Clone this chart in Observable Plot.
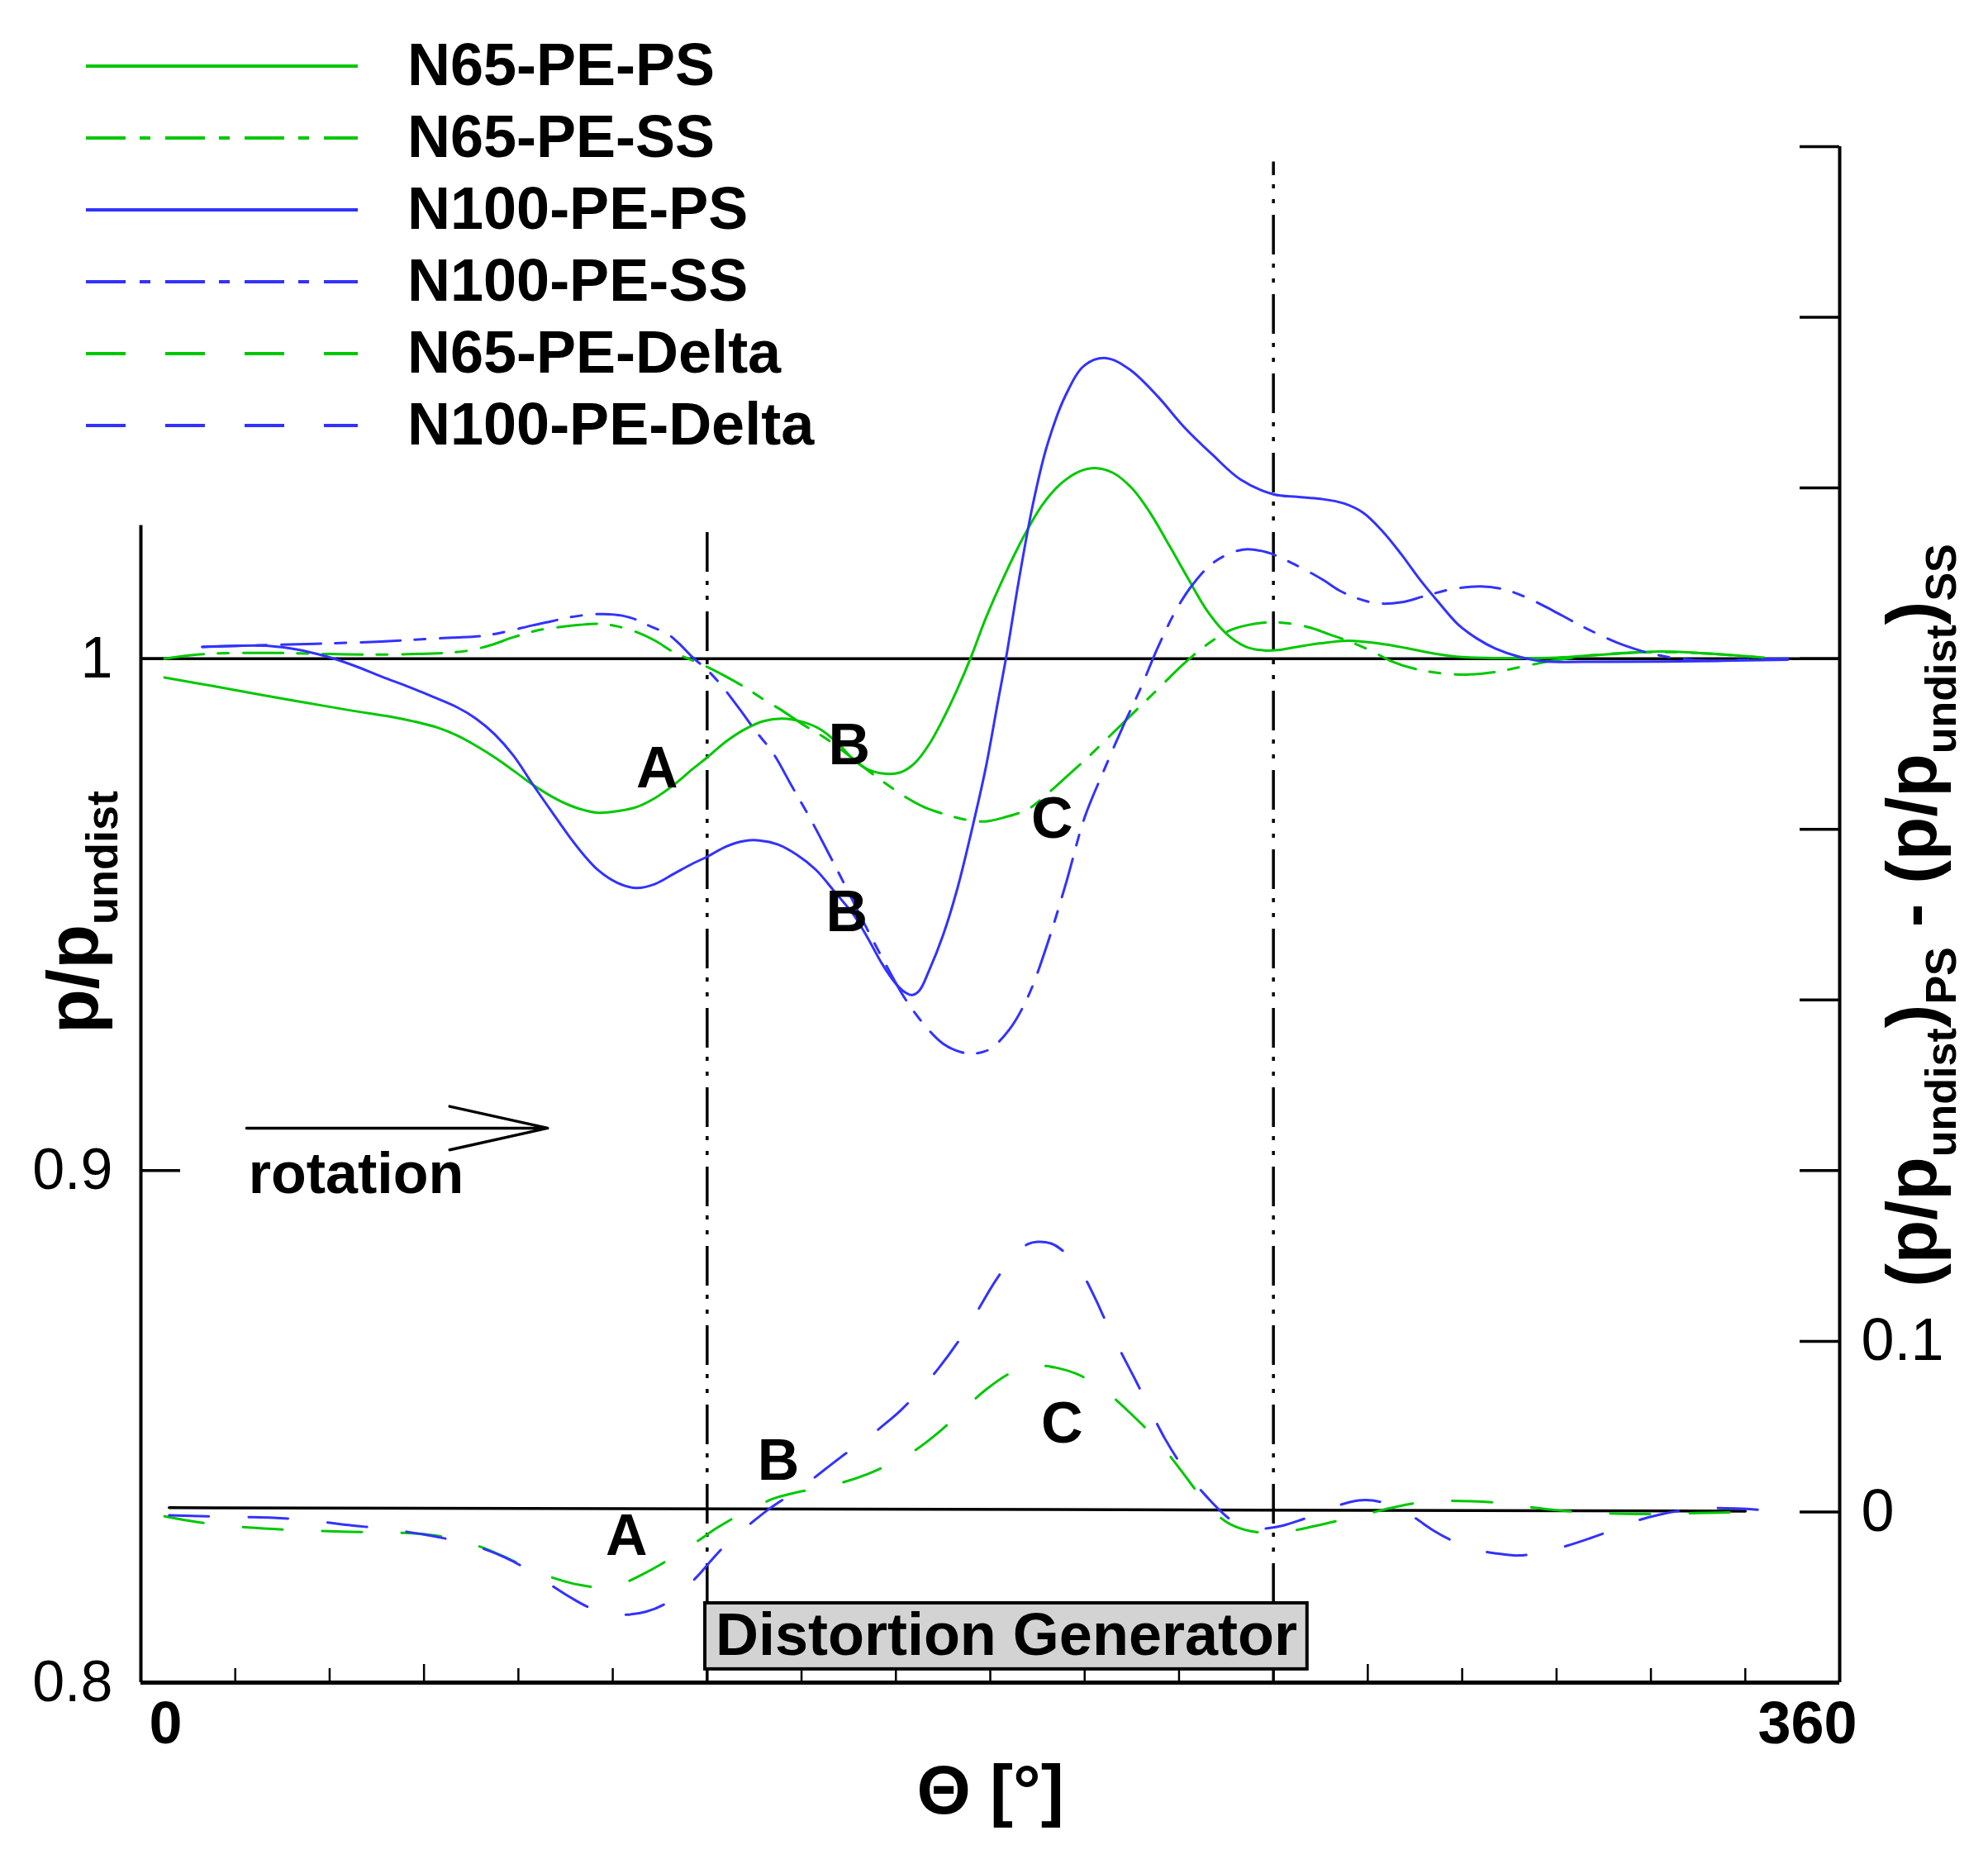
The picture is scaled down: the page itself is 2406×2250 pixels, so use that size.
<!DOCTYPE html>
<html>
<head>
<meta charset="utf-8">
<script src="https://cdn.jsdelivr.net/npm/d3@7"></script>
<script src="https://cdn.jsdelivr.net/npm/@observablehq/plot@0.6"></script>
<style>
  html, body { margin: 0; padding: 0; background: white; overflow: hidden; }
  #wrap { position: relative; width: 2406px; height: 2250px; }
  #legend { position: absolute; left: 0; top: 0; }
</style>
</head>
<body>
<div id="wrap"></div>
<script>
// ---------------- DATA ----------------
// N65-PE-PS (p/p_undist, pressure side)
const n65PS_theta = [5,15,25,35,45,52,58,63,67,71,75,79,83,87,91,94,97,101,105,109,113,117,120,124,128,132,136,140,144,148,151,154,158,161,164,167,170,173,176,179,183,187,191,195,199,202.5,206,210,214,218,222,226,230,234,238,241,245,250,256,262,268,274,280,290,300,310,322,332,344];
const n65PS_val   = [0.9963,0.9947,0.9930,0.9914,0.9898,0.9888,0.9877,0.9865,0.9850,0.9830,0.9807,0.9781,0.9754,0.9731,0.9713,0.9704,0.9699,0.9702,0.9710,0.9728,0.9754,0.9785,0.9807,0.9838,0.9862,0.9878,0.9883,0.9877,0.9862,0.9832,0.9803,0.9784,0.9775,0.9778,0.9796,0.9832,0.9882,0.9940,1.0005,1.0078,1.0162,1.0237,1.0300,1.0342,1.0366,1.0372,1.0363,1.0333,1.0283,1.0220,1.0155,1.0093,1.0049,1.0024,1.0016,1.0017,1.0023,1.0030,1.0035,1.0030,1.0021,1.0010,1.0003,1.0001,1.0002,1.0008,1.0014,1.0010,1.0002];

// N65-PE-SS (suction side)
const n65SS_theta = [5,12,20,30,40,50,58,64,69,74,79,84,89,93,97,101,105,109,113,117,120,124,128,132,136,140,145,150,154,158,162,166,170,175,179,183,188,192,196,201,206,211,216,221,226,231,236,240,244,248,252,256,261,265,270,275,281,287,292,298,305,312,322,332,342];
const n65SS_val   = [1.0000,1.0008,1.0011,1.0011,1.0009,1.0008,1.0009,1.0011,1.0015,1.0026,1.0042,1.0055,1.0062,1.0066,1.0068,1.0063,1.0052,1.0035,1.0012,0.9996,0.9984,0.9965,0.9944,0.9920,0.9898,0.9873,0.9845,0.9811,0.9782,0.9755,0.9730,0.9710,0.9697,0.9685,0.9682,0.9690,0.9706,0.9735,0.9768,0.9810,0.9855,0.9900,0.9945,0.9990,1.0028,1.0056,1.0068,1.0071,1.0068,1.0060,1.0047,1.0034,1.0014,0.9995,0.9980,0.9972,0.9969,0.9974,0.9983,0.9994,1.0004,1.0010,1.0013,1.0010,1.0003];

// N100-PE-PS
const n100PS_theta = [13,20,27,33,39,45,51,57,62,67,71,75,79,83,87,91,94,97,101,105,109,113,117,120,124,128,131,135,139,143,147,151,154,157,160,162,163.5,165,167,170,173,176,179,181.5,183.5,186,189,192,196,200,204.5,209.5,215.5,221,227,233,240,245,250,255,259,263,267,271,275,279,283,287,292,297,310,330,349];
const n100PS_val   = [1.0023,1.0025,1.0025,1.0018,1.0005,0.9987,0.9965,0.9944,0.9925,0.9905,0.9883,0.9852,0.9810,0.9755,0.9702,0.9650,0.9615,0.9586,0.9562,0.9552,0.9560,0.9580,0.9600,0.9613,0.9633,0.9644,0.9645,0.9637,0.9617,0.9588,0.9545,0.9500,0.9455,0.9405,0.9365,0.9348,0.9343,0.9352,0.9390,0.9460,0.9550,0.9662,0.9785,0.9910,1.0010,1.0150,1.0300,1.0415,1.0515,1.0573,1.0587,1.0565,1.0512,1.0453,1.0399,1.0350,1.0321,1.0316,1.0312,1.0303,1.0285,1.0250,1.0205,1.0155,1.0110,1.0068,1.0040,1.0020,1.0004,0.9995,0.9994,0.9995,0.9998];

// N100-PE-SS
const n100SS_theta = [13,25,37,50,60,66,72,77,83,87,91,95,98,102,105,108,111.5,114,117,120,123,127,130,134,138,142,146,150,154,158,162,166,170,174,177,180,184,188,192,196,200,204,208,212,215.5,219.5,223,227.5,233.5,238.5,244.5,250.5,254,258,262,267,272,278,284,289,294,299,304,309,314,320,326,332,340,349];
const n100SS_val   = [1.0023,1.0026,1.0029,1.0033,1.0038,1.0041,1.0044,1.0052,1.0065,1.0073,1.0081,1.0086,1.0087,1.0084,1.0076,1.0063,1.0049,1.0030,1.0002,0.9978,0.9948,0.9900,0.9862,0.9815,0.9750,0.9685,0.9615,0.9543,0.9470,0.9400,0.9335,0.9285,0.9248,0.9231,0.9229,0.9238,0.9275,0.9340,0.9440,0.9560,0.9690,0.9780,0.9865,0.9945,1.0022,1.0097,1.0146,1.0189,1.0213,1.0208,1.0184,1.0154,1.0133,1.0117,1.0108,1.0110,1.0122,1.0136,1.0141,1.0135,1.0118,1.0095,1.0070,1.0047,1.0027,1.0010,1.0000,0.9996,0.9998,1.0000];

// N65-PE-Delta  (right axis: (p/p)PS - (p/p)SS)
const n65D_theta = [5,12,20,28,36,44,52,58,63,68,73,78,83,88,93,98,102,106,110,114,118,122,126,130,134,139,144,149,154,159,164,169,174,179,184,188,191,194,198,202,206,210,214,218,222,226,230,234,238,241,245,250,255,260,266,271,276,282,288,294,300,307,318,330,342];
const n65D_val   = [-0.0026,-0.0060,-0.0085,-0.0100,-0.0110,-0.0116,-0.0120,-0.0126,-0.0140,-0.0170,-0.0215,-0.0275,-0.0340,-0.0392,-0.0428,-0.0442,-0.0420,-0.0370,-0.0310,-0.0240,-0.0170,-0.0095,-0.0030,0.0025,0.0078,0.0115,0.0142,0.0175,0.0222,0.0285,0.0360,0.0465,0.0590,0.0715,0.0810,0.0850,0.0856,0.0845,0.0812,0.0755,0.0672,0.0570,0.0460,0.0330,0.0185,0.0040,-0.0058,-0.0105,-0.0123,-0.0125,-0.0105,-0.0075,-0.0043,-0.0010,0.0030,0.0055,0.0065,0.0063,0.0052,0.0030,0.0010,-0.0004,-0.0012,-0.0006,0.0000];

// N100-PE-Delta
const n100D_theta = [6,14,22,28,36,44,52,60,66,72,77,82,87,91,95,99,103,107,111,115,118,121,124,127,130,133,137,141,145,149,153,157,161,165,169,173,177,181,185,188,190,193,196,199,202,205,208,211,214,217,220,223,226,229,232,236,239,242,246,250,254,258,261,264,267,270,274,278,282,287,292,297,302,307,312,317,322,327,332,338,344,349];
const n100D_val   = [-0.0020,-0.0026,-0.0030,-0.0034,-0.0050,-0.0077,-0.0100,-0.0132,-0.0165,-0.0210,-0.0265,-0.0338,-0.0430,-0.0500,-0.0560,-0.0595,-0.0602,-0.0585,-0.0540,-0.0455,-0.0375,-0.0280,-0.0190,-0.0118,-0.0050,0.0015,0.0090,0.0165,0.0250,0.0335,0.0410,0.0500,0.0595,0.0710,0.0840,0.0990,0.1165,0.1350,0.1500,0.1570,0.1583,0.1572,0.1515,0.1420,0.1265,0.1085,0.0920,0.0760,0.0590,0.0430,0.0295,0.0180,0.0085,0.0000,-0.0065,-0.0099,-0.0095,-0.0080,-0.0045,-0.0005,0.0040,0.0068,0.0068,0.0048,0.0015,-0.0035,-0.0110,-0.0170,-0.0215,-0.0242,-0.0255,-0.0235,-0.0200,-0.0155,-0.0105,-0.0052,-0.0015,0.0010,0.0022,0.0020,0.0010,-0.0004];

// zero reference line of the delta curves
const zeroRef_theta = [6, 340];
const zeroRef_val = [0.0025, 0.0005];

// series definitions
const seriesNames  = ["N65-PE-PS","N65-PE-SS","N100-PE-PS","N100-PE-SS","N65-PE-Delta","N100-PE-Delta"];
const seriesColors = ["#00c800","#00c800","#3232ff","#3232ff","#00c800","#3232ff"];
const seriesDash   = [null,"48,17,13,18",null,"48,17,13,18","48,48","48,48"];

// axes / ticks
const leftTicks = [0.8, 0.9, 1];
const leftTickLabels = ["0.8", "0.9", "1"];
const rightTicks = [-0.1,0,0.1,0.2,0.3,0.4,0.5,0.6,0.7,0.8];
const rightLabelTicks = [0, 0.1];
const rightTickLabels = ["0", "0.1"];
const xMinorTicks = [20,40,80,100,140,180,200,220,280,300,320,340];
const xMajorTicks = [60,160,260];
const xTickStart = {theta: 0, text: "0"};
const xTickEnd = {theta: 360, text: "360"};
const dgLines = [{theta: 120, top: 1.026}, {theta: 240, top: 1.097}];

// annotations
const letters = [
  {theta: 109.4, v: 0.9785, t: "A"},
  {theta: 150.1, v: 0.9830, t: "B"},
  {theta: 149.6, v: 0.9504, t: "B"},
  {theta: 193.1, v: 0.9686, t: "C"},
  {theta: 102.9, v: 0.8286, t: "A"},
  {theta: 135.1, v: 0.8433, t: "B"},
  {theta: 195.2, v: 0.8505, t: "C"}
];
const rotationArrow = {x1: 22.4, x2: 86.2, y: 0.9083};
const rotationText = {theta: 22.8, v: 0.8956, t: "rotation"};
const dgBox = {x1: 119.6, x2: 247.2, y1: 0.8026, y2: 0.8155, t: "Distortion Generator"};

// ---------------- LAYOUT ----------------
const W = 2406, H = 2250;
const mL = 170, mR = 180, mT = 177, mB = 214;
const yMin = 0.8, yMax = 1.1;
const pxPerDeg = (W - mL - mR) / 360;
const pxPerUnit = (H - mT - mB) / (yMax - yMin);
const toLeft = r => yMin + (r + 0.1) / 3;   // right-axis value -> left-axis units
const FONT = "'Liberation Sans', Arial, Helvetica, sans-serif";

function pairs(th, vals, f = v => v) { return th.map((t, i) => ({theta: t, v: f(vals[i])})); }
const seriesData = [
  pairs(n65PS_theta, n65PS_val),
  pairs(n65SS_theta, n65SS_val),
  pairs(n100PS_theta, n100PS_val),
  pairs(n100SS_theta, n100SS_val),
  pairs(n65D_theta, n65D_val, toLeft),
  pairs(n100D_theta, n100D_val, toLeft)
];
const zeroRef = pairs(zeroRef_theta, zeroRef_val, toLeft);

const tickDeg = 48 / pxPerDeg;
const minorLen = 17 / pxPerUnit, majorLen = 22 / pxPerUnit;

const dataMarks = seriesData.map((d, i) => Plot.line(d, {
  x: "theta", y: "v", stroke: seriesColors[i], strokeWidth: 3,
  strokeDasharray: seriesDash[i] || undefined, curve: "catmull-rom"
}));

const chart = Plot.plot({
  width: W, height: H,
  marginLeft: mL, marginRight: mR, marginTop: mT, marginBottom: mB,
  style: {fontFamily: FONT, background: "white", color: "black", overflow: "visible"},
  x: {domain: [0, 360], axis: null},
  y: {domain: [yMin, yMax], axis: null},
  marks: [
    // reference lines
    Plot.ruleY([1], {stroke: "black", strokeWidth: 3.5}),
    Plot.line(zeroRef, {x: "theta", y: "v", stroke: "black", strokeWidth: 3.5}),
    Plot.ruleX(dgLines, {x: "theta", y1: yMin, y2: "top", stroke: "black", strokeWidth: 3.5, strokeDasharray: "48,14,5,13,5,11"}),
    // axis lines
    Plot.ruleX([0], {y1: yMin, y2: 1.026, stroke: "black", strokeWidth: 4}),
    Plot.ruleX([360], {y1: yMin, y2: yMax, stroke: "black", strokeWidth: 4}),
    Plot.ruleY([yMin], {stroke: "black", strokeWidth: 5}),
    // ticks
    Plot.ruleY(leftTicks.filter(v => v > yMin), {x1: 0, x2: tickDeg, stroke: "black", strokeWidth: 3.5}),
    Plot.ruleY(rightTicks.filter(r => r > -0.1).map(toLeft), {x1: 360 - tickDeg, x2: 360, stroke: "black", strokeWidth: 3.5}),
    Plot.ruleX(xMinorTicks, {y1: yMin, y2: yMin + minorLen, stroke: "black", strokeWidth: 2.5}),
    Plot.ruleX(xMajorTicks, {y1: yMin, y2: yMin + majorLen, stroke: "black", strokeWidth: 2.5}),
    // tick labels
    Plot.text(leftTicks, {x: 0, y: d => d, text: (d, i) => leftTickLabels[i], textAnchor: "end", dx: -34, fontSize: 70}),
    Plot.text(rightLabelTicks, {x: 360, y: d => toLeft(d), text: (d, i) => rightTickLabels[i], textAnchor: "start", dx: 26, fontSize: 72}),
    Plot.text([xTickStart], {x: "theta", y: () => yMin, text: "text", dx: 30, dy: 50, fontSize: 72, fontWeight: "bold"}),
    Plot.text([xTickEnd], {x: "theta", y: () => yMin, text: "text", dx: -39, dy: 50, fontSize: 72, fontWeight: "bold"}),
    Plot.text(["Θ [°]"], {x: () => 180, y: () => yMin, text: d => d, dy: 132, fontSize: 84, fontWeight: "bold"}),
    // distortion generator box
    Plot.rect([dgBox], {x1: "x1", x2: "x2", y1: "y1", y2: "y2", fill: "#d3d3d3", stroke: "black", strokeWidth: 4}),
    Plot.text([dgBox], {x: d => (d.x1 + d.x2) / 2, y: d => (d.y1 + d.y2) / 2, text: "t", fontSize: 72, fontWeight: "bold"}),
    // data
    ...dataMarks,
    // annotations
    Plot.text(letters, {x: "theta", y: "v", text: "t", fontSize: 70, fontWeight: "bold"}),
    Plot.arrow([rotationArrow], {x1: "x1", x2: "x2", y1: "y", y2: "y", stroke: "black", strokeWidth: 3.5, headAngle: 25, headLength: 122}),
    Plot.text([rotationText], {x: "theta", y: "v", text: "t", textAnchor: "start", lineAnchor: "bottom", fontSize: 70, fontWeight: "bold"})
  ]
});

// axis titles with subscripts
const svg = d3.select(chart);
function title(x, y, parts, big, small) {
  const t = svg.append("text")
    .attr("transform", `translate(${x},${y}) rotate(-90)`)
    .attr("text-anchor", "middle")
    .attr("font-family", FONT).attr("font-weight", "bold").attr("fill", "black");
  let shifted = false;
  for (const [s, sub] of parts) {
    const ts = t.append("tspan").text(s).attr("font-size", sub ? small : big);
    if (sub && !shifted) { ts.attr("dy", 24); shifted = true; }
    else if (!sub && shifted) { ts.attr("dy", -24); shifted = false; }
  }
}
title(118, 1104, [["p/p", false], ["undist", true]], 88, 54);
title(2343, 1108, [["(p/p", false], ["undist", true], [")", false], ["PS", true], [" - (p/p", false], ["undist", true], [")", false], ["SS", true]], 86, 52);

document.getElementById("wrap").appendChild(chart);

// legend
const legendY = [80, 167, 254, 341, 428, 515];
const leg = d3.select("#wrap").append("svg").attr("id", "legend").attr("width", 1100).attr("height", 570);
seriesNames.forEach((name, i) => {
  leg.append("line").attr("x1", 104).attr("x2", 433).attr("y1", legendY[i]).attr("y2", legendY[i])
    .attr("stroke", seriesColors[i]).attr("stroke-width", 4)
    .attr("stroke-dasharray", seriesDash[i] || null);
  leg.append("text").attr("x", 493).attr("y", legendY[i] + 23).text(name)
    .attr("font-family", FONT).attr("font-weight", "bold").attr("font-size", 72).attr("fill", "black");
});
</script>
</body>
</html>
